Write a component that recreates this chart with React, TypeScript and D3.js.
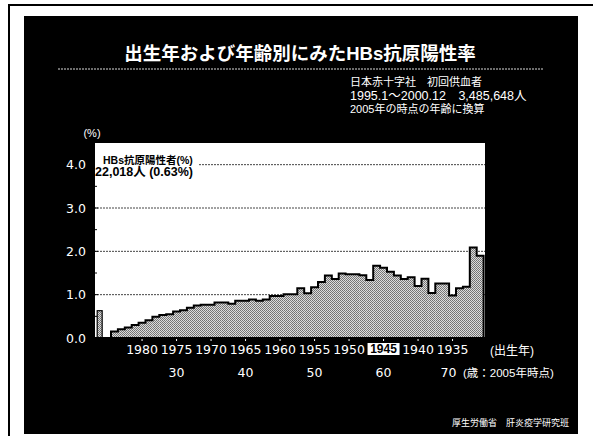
import React from "react";
import * as d3 from "d3";

const W = 593;
const H = 436;

// Birth years (newest on the left) and HBs antigen positive rate (%) per year
const birthYears = [
  1984, 1983, 1982, 1981, 1980, 1979, 1978, 1977, 1976, 1975,
  1974, 1973, 1972, 1971, 1970, 1969, 1968, 1967, 1966, 1965,
  1964, 1963, 1962, 1961, 1960, 1959, 1958, 1957, 1956, 1955,
  1954, 1953, 1952, 1951, 1950, 1949, 1948, 1947, 1946, 1945,
  1944, 1943, 1942, 1941, 1940, 1939, 1938, 1937, 1936, 1935,
  1934, 1933, 1932, 1931,
];
const positiveRate = [
  0.15, 0.2, 0.24, 0.3, 0.35, 0.41, 0.49, 0.53, 0.55, 0.61,
  0.64, 0.7, 0.75, 0.77, 0.77, 0.82, 0.82, 0.79, 0.86, 0.86,
  0.89, 0.86, 0.89, 0.97, 0.97, 1.01, 1.01, 1.15, 1.03, 1.17,
  1.29, 1.44, 1.36, 1.49, 1.47, 1.47, 1.45, 1.34, 1.67, 1.62,
  1.53, 1.44, 1.36, 1.4, 1.2, 1.37, 1.04, 1.26, 1.26, 0.98,
  1.15, 1.18, 2.09, 1.9,
];
const overallRate = 0.63;

const yearTicks = [1980, 1975, 1970, 1965, 1960, 1955, 1950, 1945, 1940, 1935];
const highlightYear = 1945;
const ageLabels = [30, 40, 50, 60, 70];
const ageYears = [1975, 1965, 1955, 1945, 1935];
const yTicks = [0, 1, 2, 3, 4];
const yMinorTicks = [0.5, 1.5, 2.5, 3.5];

const title = "出生年および年齢別にみたHBs抗原陽性率";
const sourceLines = [
  "日本赤十字社　初回供血者",
  "1995.1～2000.12　3,485,648人",
  "2005年の時点の年齢に換算",
];
const legendLines = ["HBs抗原陽性者(%)", "22,018人 (0.63%)"];
const footer = "厚生労働省　肝炎疫学研究班";

const JP = "'Liberation Sans', 'Noto Sans CJK JP', sans-serif";
const NUM = "'DejaVu Sans', 'Noto Sans CJK JP', sans-serif";

const plot = { left: 94, right: 485, top: 143, bottom: 338 };

export default function App() {
  const bandKeys = ["all", "gap", ...birthYears.map(String)];
  const x = d3.scaleBand<string>().domain(bandKeys).range([97.2, 483.6]).padding(0);
  const y = d3.scaleLinear().domain([0, 4.5]).range([plot.bottom, plot.top]);
  const bw = x.bandwidth();

  // step outline across the tops of the yearly bars
  const pts: [number, number][] = [];
  const first = x(String(birthYears[0]))!;
  pts.push([first, y(0)]);
  birthYears.forEach((yr, i) => {
    const x0 = x(String(yr))!;
    pts.push([x0, y(positiveRate[i])]);
    pts.push([x0 + bw, y(positiveRate[i])]);
  });
  const lastX = x(String(birthYears[birthYears.length - 1]))! + bw;
  pts.push([lastX, y(0)]);
  const outline = d3.line()(pts) || "";

  const cx = (yr: number) => x(String(yr))! + bw / 2;
  const allX = x("all")!;
  const allW = bw * 0.72;

  return (
    <svg
      width={W}
      height={H}
      style={{ position: "absolute", left: 0, top: 0 }}
      xmlns="http://www.w3.org/2000/svg"
    >
      <defs>
        <pattern id="halftone" width={2} height={2} patternUnits="userSpaceOnUse">
          <rect width={2} height={2} fill="#dcdcdc" />
          <rect width={1} height={1} fill="#707070" />
          <rect x={1} y={1} width={1} height={1} fill="#7a7a7a" />
        </pattern>
      </defs>

      <rect width={W} height={H} fill="#ffffff" />
      <line x1={8} x2={W} y1={5} y2={5} stroke="#000" strokeWidth={2} />
      <line x1={9} x2={9} y1={4} y2={H} stroke="#000" strokeWidth={2} />

      {/* slide */}
      <rect x={24} y={16} width={554} height={418} fill="#000" />

      <text
        x={300}
        y={53}
        fill="#fff"
        fontFamily={JP}
        fontSize={18.5}
        fontWeight="bold"
        textAnchor="middle"
        dominantBaseline="central"
      >
        {title}
      </text>
      <line
        x1={58}
        x2={543}
        y1={69}
        y2={69}
        stroke="#fff"
        strokeWidth={1}
        strokeDasharray="2,1"
        opacity={0.85}
      />

      {sourceLines.map((s, i) => (
        <text
          key={i}
          x={350}
          y={[82, 96, 109][i]}
          fill="#fff"
          fontFamily={JP}
          fontSize={i === 1 ? 12.5 : 11}
          dominantBaseline="central"
        >
          {s}
        </text>
      ))}

      {/* plot panel */}
      <rect
        x={plot.left}
        y={plot.top}
        width={plot.right - plot.left}
        height={plot.bottom - plot.top}
        fill="#fff"
      />

      {yTicks
        .filter((v) => v > 0)
        .map((v) => (
          <line
            key={v}
            x1={plot.left}
            x2={plot.right}
            y1={y(v)}
            y2={y(v)}
            stroke="#444"
            strokeWidth={1}
            strokeDasharray="2,1"
          />
        ))}

      {/* overall rate bar */}
      <rect
        x={allX}
        y={y(overallRate)}
        width={allW}
        height={y(0) - y(overallRate)}
        fill="url(#halftone)"
        stroke="#000"
        strokeWidth={1.2}
      />

      {/* yearly bars */}
      {birthYears.map((yr, i) => (
        <rect
          key={yr}
          x={x(String(yr))!}
          y={y(positiveRate[i])}
          width={bw + 0.3}
          height={y(0) - y(positiveRate[i])}
          fill="url(#halftone)"
        />
      ))}
      <path d={outline} fill="none" stroke="#000" strokeWidth={2} strokeLinejoin="miter" />

      {/* y axis */}
      <line x1={plot.left} x2={plot.left} y1={plot.top} y2={plot.bottom} stroke="#000" strokeWidth={2} />
      <line x1={plot.left - 1} x2={plot.right} y1={plot.bottom} y2={plot.bottom} stroke="#000" strokeWidth={2} />
      {yTicks.map((v) => (
        <line key={"t" + v} x1={plot.left} x2={plot.left + 4} y1={y(v)} y2={y(v)} stroke="#000" strokeWidth={1} />
      ))}
      {yMinorTicks.map((v) => (
        <line key={"m" + v} x1={plot.left} x2={plot.left + 3} y1={y(v)} y2={y(v)} stroke="#000" strokeWidth={1} />
      ))}
      {yTicks.map((v) => (
        <text
          key={"l" + v}
          x={86}
          y={y(v)}
          fill="#fff"
          fontFamily={NUM}
          fontSize={12.5}
          textAnchor="end"
          dominantBaseline="central"
        >
          {v.toFixed(1)}
        </text>
      ))}
      <text
        x={92}
        y={133}
        fill="#fff"
        fontFamily={JP}
        fontSize={11}
        textAnchor="middle"
        dominantBaseline="central"
      >
        (%)
      </text>

      {/* legend note */}
      <rect x={95} y={151} width={104} height={26} fill="#fff" />
      <text x={103} y={160} fill="#000" fontFamily={JP} fontSize={10.5} fontWeight="bold" dominantBaseline="central">
        {legendLines[0]}
      </text>
      <text x={95} y={172} fill="#000" fontFamily={JP} fontSize={12.5} fontWeight="bold" dominantBaseline="central">
        {legendLines[1]}
      </text>

      {/* x axis: birth years */}
      {yearTicks.map((yr) => (
        <line key={"xt" + yr} x1={cx(yr)} x2={cx(yr)} y1={plot.bottom + 1} y2={plot.bottom + 3} stroke="#fff" strokeWidth={1} />
      ))}
      {yearTicks.map((yr) =>
        yr === highlightYear ? (
          <g key={"y" + yr}>
            <rect x={cx(yr) - 16} y={343} width={32} height={12} fill="#fff" />
            <text
              x={cx(yr)}
              y={349}
              fill="#000"
              fontFamily={JP}
              fontSize={12}
              fontWeight="bold"
              textAnchor="middle"
              dominantBaseline="central"
            >
              {yr}
            </text>
          </g>
        ) : (
          <text
            key={"y" + yr}
            x={cx(yr)}
            y={349}
            fill="#fff"
            fontFamily={NUM}
            fontSize={12.5}
            textAnchor="middle"
            dominantBaseline="central"
          >
            {yr}
          </text>
        )
      )}
      <text x={490} y={351} fill="#fff" fontFamily={JP} fontSize={12} dominantBaseline="central">
        (出生年)
      </text>

      {/* ages in 2005 */}
      {ageLabels.map((a, i) => (
        <text
          key={"a" + a}
          x={cx(ageYears[i]) - (i === ageLabels.length - 1 ? 4 : 0)}
          y={372}
          fill="#fff"
          fontFamily={NUM}
          fontSize={12.5}
          textAnchor="middle"
          dominantBaseline="central"
        >
          {a}
        </text>
      ))}
      <text x={463} y={373} fill="#fff" fontFamily={JP} fontSize={11.5} dominantBaseline="central">
        (歳：2005年時点)
      </text>

      <text x={452} y={423} fill="#fff" fontFamily={JP} fontSize={9} dominantBaseline="central">
        {footer}
      </text>
    </svg>
  );
}
